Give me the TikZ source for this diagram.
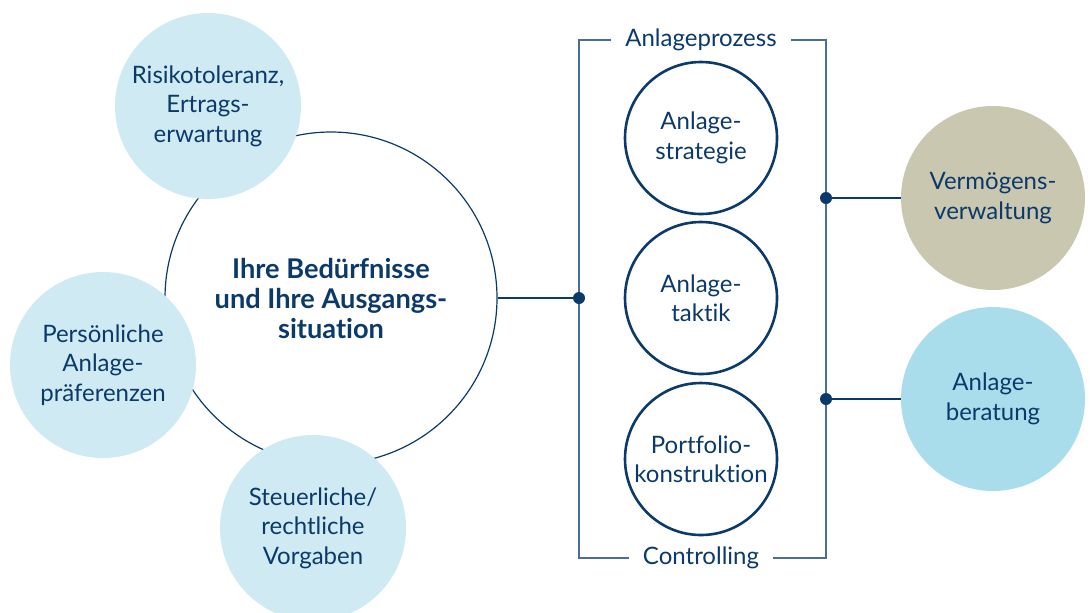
\documentclass[tikz,border=0pt]{standalone}
\usepackage{fontspec}
\setmainfont[Ligatures=NoCommon]{Lato}
\usepackage{tikz}
\usetikzlibrary{positioning}
\definecolor{navy}{HTML}{0B3A6A}
\definecolor{framec}{HTML}{4B6E98}
\definecolor{skylight}{HTML}{CFEAF2}
\definecolor{skymid}{HTML}{AADDEB}
\definecolor{khaki}{HTML}{C9C7AF}
\tikzset{
  txt/.style={text=navy, align=center, font=\fontsize{12}{14.7}\selectfont},
  sat/.style={txt, circle, fill=skylight, minimum size=93pt, inner sep=0pt},
  core/.style={circle, draw=navy, line width=0.6pt, minimum size=166pt, inner sep=0pt},
  stepc/.style={txt, circle, draw=navy, line width=1.3pt, minimum size=76pt, inner sep=0pt},
  offer/.style={txt, circle, minimum size=92pt, inner sep=0pt},
  link/.style={draw=navy, line width=0.6pt},
  frame/.style={draw=framec, line width=0.7pt},
  dot/.style={circle, fill=navy, inner sep=0pt, minimum size=6pt},
  lab/.style={txt, inner xsep=7pt, inner ysep=2pt},
}
\begin{document}
\begin{tikzpicture}[x=0.5pt,y=-0.5pt]
  \useasboundingbox (0,0) rectangle (1090,612);
  % Ausgangssituation
  \node[core] (needs) at (331,298) {};
  \node[txt, font=\fontsize{13.6}{15}\selectfont\bfseries] at (needs) {Ihre Bedürfnisse\\und Ihre Ausgangs-\\situation};
  \node[sat] (risk) at (208,106) {Risikotoleranz,\\Ertrags-\\erwartung};
  \node[sat] (pref) at (103,365) {Persönliche\\Anlage-\\präferenzen};
  \node[sat] (tax) at (313,528) {Steuerliche/\\rechtliche\\Vorgaben};
  % Anlageprozess
  \node[lab] (proc) at (701,40) {Anlageprozess};
  \node[lab] (ctrl) at (701,558) {Controlling};
  \node[stepc] (strat) at (701,138) {Anlage-\\strategie};
  \node[stepc] (tact) at (701,298) {Anlage-\\taktik};
  \node[stepc] (port) at (701,459) {Portfolio-\\konstruktion};
  \node[dot] (dl) at (579,298) {};
  \node[dot] (dr1) at (826,198) {};
  \node[dot] (dr2) at (826,399) {};
  \draw[frame] (proc.west) -| (dl) |- (ctrl.west);
  \draw[frame] (proc.east) -| (dr1) -- (dr2) |- (ctrl.east);
  % Angebote
  \node[offer, fill=khaki] (vv) at (993,198) {Vermögens-\\verwaltung};
  \node[offer, fill=skymid] (ab) at (993,399) {Anlage-\\beratung};
  \draw[link] (needs.east) -- (dl);
  \draw[link] (dr1) -- (vv.west);
  \draw[link] (dr2) -- (ab.west);
\end{tikzpicture}
\end{document}
